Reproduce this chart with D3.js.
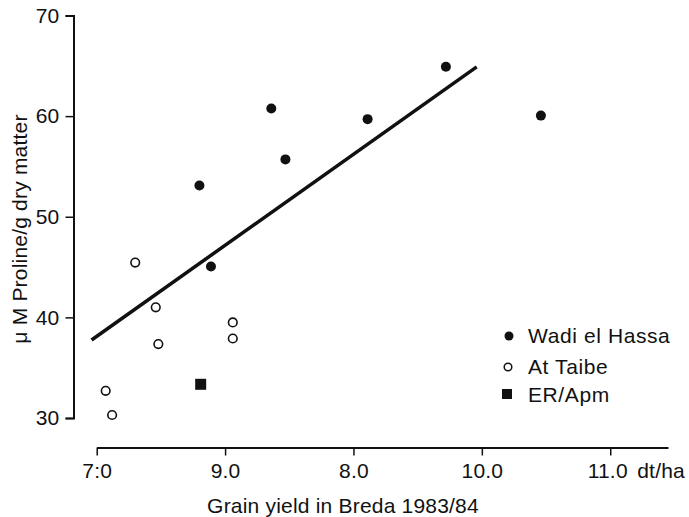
<!DOCTYPE html>
<html>
<head>
<meta charset="utf-8">
<script src="https://cdn.jsdelivr.net/npm/d3@7"></script>
<style>
    body { margin: 0; background: #fff; }
    svg text { font-family: "Liberation Sans", Arial, sans-serif; font-size: 21px; fill: #111; letter-spacing: 0.2px; }
</style>
</head>
<body>
<svg width="689" height="517"></svg>
<script>
// Wadi el Hassa (filled circles)
const wadiX = [8.36, 9.11, 8.47, 7.80, 7.89, 9.72, 10.46];
const wadiY = [60.75, 59.7, 55.7, 53.1, 45.05, 64.9, 60.05];

// At Taibe (open circles)
const taibeX = [7.30, 7.46, 8.06, 8.06, 7.48, 7.07, 7.12];
const taibeY = [45.45, 41.0, 39.5, 37.9, 37.35, 32.7, 30.3];

// ER/Apm (filled square)
const erX = [7.81];
const erY = [33.35];

// regression line end points
const fitX = [6.96, 9.96];
const fitY = [37.75, 64.9];

const xTicks = [7, 8, 9, 10, 11];
const xTickLabels = ["7:0", "9.0", "8.0", "10.0", "11.0"];
const yTicks = [30, 40, 50, 60, 70];

const legendNames = ["Wadi el Hassa", "At Taibe", "ER/Apm"];

const svg = d3.select("svg");

const x = d3.scaleLinear().domain([7, 11.45]).range([96.7, 668]);
const y = d3.scaleLinear().domain([30, 70]).range([418, 15.5]);

// Axes
const xAxis = svg.append("g")
    .attr("transform", "translate(0,447.5)")
    .call(d3.axisBottom(x)
        .tickValues(xTicks)
        .tickFormat((d, i) => xTickLabels[i])
        .tickSize(8)
        .tickSizeOuter(0)
        .tickPadding(8));

const yAxis = svg.append("g")
    .attr("transform", "translate(73.5,0)")
    .call(d3.axisLeft(y)
        .tickValues(yTicks)
        .tickSize(8)
        .tickPadding(6));

[xAxis, yAxis].forEach(a => {
    a.select(".domain").attr("stroke", "#111").attr("stroke-width", 2);
    a.selectAll(".tick line").attr("stroke", "#111").attr("stroke-width", 1.5);
    a.selectAll("text").attr("font-size", null).attr("font-family", null).attr("fill", "#111");
});

// last tick label sits a touch left of its tick, unit after it
xAxis.selectAll(".tick text").filter(d => d === 11).attr("dx", -3);
svg.append("text")
    .attr("x", x(11) + 27)
    .attr("y", 478)
    .text("dt/ha");

// Axis titles
svg.append("text")
    .attr("x", 343)
    .attr("y", 513)
    .attr("text-anchor", "middle")
    .text("Grain yield in Breda 1983/84");

svg.append("text")
    .attr("transform", "translate(27,229) rotate(-90)")
    .attr("text-anchor", "middle")
    .text("\u03bc M Proline/g dry matter");

// Regression line
const line = d3.line().x(d => x(d[0])).y(d => y(d[1]));
svg.append("path")
    .datum(d3.zip(fitX, fitY))
    .attr("d", line)
    .attr("fill", "none")
    .attr("stroke", "#111")
    .attr("stroke-width", 3.5);

// Points
svg.append("g").selectAll("circle")
    .data(d3.zip(wadiX, wadiY))
    .join("circle")
    .attr("cx", d => x(d[0]))
    .attr("cy", d => y(d[1]))
    .attr("r", 5)
    .attr("fill", "#111");

svg.append("g").selectAll("circle")
    .data(d3.zip(taibeX, taibeY))
    .join("circle")
    .attr("cx", d => x(d[0]))
    .attr("cy", d => y(d[1]))
    .attr("r", 4.3)
    .attr("fill", "#fff")
    .attr("stroke", "#111")
    .attr("stroke-width", 1.6);

svg.append("g").selectAll("rect")
    .data(d3.zip(erX, erY))
    .join("rect")
    .attr("x", d => x(d[0]) - 5.5)
    .attr("y", d => y(d[1]) - 5.5)
    .attr("width", 11)
    .attr("height", 11)
    .attr("fill", "#111");

// Legend
const legend = svg.append("g").attr("transform", "translate(508,0)");
const rowY = [336, 367, 395];

legend.append("circle").attr("cx", 1).attr("cy", rowY[0]).attr("r", 4.5).attr("fill", "#111");
legend.append("circle").attr("cx", 0).attr("cy", rowY[1]).attr("r", 3.8)
    .attr("fill", "#fff").attr("stroke", "#111").attr("stroke-width", 1.5);
legend.append("rect").attr("x", -6).attr("y", rowY[2] - 6).attr("width", 10).attr("height", 10).attr("fill", "#111");

legend.selectAll("text.lab")
    .data(legendNames)
    .join("text")
    .attr("class", "lab")
    .attr("x", 20)
    .attr("y", (d, i) => rowY[i] + 7)
    .style("letter-spacing", "0.6px")
    .text(d => d);
</script>
</body>
</html>
